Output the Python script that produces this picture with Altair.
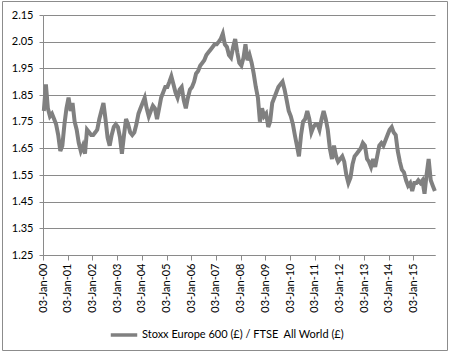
import altair as alt
import pandas as pd

# Monthly readings of the ratio (one list per year)
y2000 = [1.79, 1.89, 1.80, 1.77, 1.78, 1.76, 1.74, 1.70, 1.64, 1.66, 1.74, 1.80]
y2001 = [1.84, 1.79, 1.82, 1.75, 1.72, 1.67, 1.64, 1.66, 1.63, 1.72, 1.71, 1.70]
y2002 = [1.70, 1.71, 1.72, 1.76, 1.79, 1.82, 1.76, 1.69, 1.66, 1.70, 1.73, 1.74]
y2003 = [1.73, 1.69, 1.63, 1.70, 1.76, 1.74, 1.71, 1.70, 1.71, 1.74, 1.78, 1.80]
y2004 = [1.82, 1.84, 1.80, 1.77, 1.79, 1.81, 1.80, 1.76, 1.80, 1.84, 1.86, 1.88]
y2005 = [1.88, 1.90, 1.92, 1.89, 1.86, 1.84, 1.87, 1.88, 1.83, 1.80, 1.84, 1.87]
y2006 = [1.88, 1.90, 1.93, 1.94, 1.96, 1.97, 1.98, 2.00, 2.01, 2.02, 2.03, 2.04]
y2007 = [2.04, 2.05, 2.06, 2.08, 2.04, 2.03, 2.00, 1.99, 2.03, 2.06, 2.01, 1.97]
y2008 = [1.96, 1.99, 2.04, 1.98, 2.00, 1.97, 1.93, 1.88, 1.84, 1.75, 1.80, 1.77]
y2009 = [1.78, 1.73, 1.75, 1.82, 1.84, 1.86, 1.88, 1.89, 1.90, 1.87, 1.83, 1.79]
y2010 = [1.77, 1.74, 1.70, 1.66, 1.62, 1.70, 1.75, 1.76, 1.79, 1.76, 1.71, 1.73]
y2011 = [1.74, 1.74, 1.72, 1.76, 1.79, 1.76, 1.72, 1.65, 1.61, 1.66, 1.62, 1.60]
y2012 = [1.61, 1.62, 1.60, 1.55, 1.52, 1.54, 1.59, 1.62, 1.63, 1.64, 1.65, 1.67]
y2013 = [1.66, 1.61, 1.60, 1.58, 1.61, 1.58, 1.62, 1.66, 1.67, 1.66, 1.68, 1.70]
y2014 = [1.72, 1.73, 1.71, 1.70, 1.64, 1.60, 1.57, 1.56, 1.53, 1.51, 1.52, 1.49]
y2015 = [1.52, 1.52, 1.53, 1.52, 1.53, 1.48, 1.55, 1.61, 1.53, 1.51, 1.49]

years = [y2000, y2001, y2002, y2003, y2004, y2005, y2006, y2007,
         y2008, y2009, y2010, y2011, y2012, y2013, y2014, y2015]
y_ticks = [1.25, 1.35, 1.45, 1.55, 1.65, 1.75, 1.85, 1.95, 2.05, 2.15]
tick_years = list(range(2000, 2016))
series_name = "Stoxx Europe 600 (£) / FTSE\u00a0 All World (£)"

values = [v for yr in years for v in yr]
dates = [pd.Timestamp(2000 + i, m + 1, 15) for i, yr in enumerate(years) for m in range(len(yr))]
df = pd.DataFrame({"date": dates, "ratio": values, "series": series_name})

FONT = "Lato"
GRID = "#8a8a8a"

line = alt.Chart(df).mark_line(strokeWidth=4, strokeJoin="miter").encode(
    x=alt.X(
        "date:T",
        scale=alt.Scale(domain=[alt.DateTime(year=2000, month=1, date=3),
                                alt.DateTime(year=2015, month=11, date=17)]),
        axis=alt.Axis(
            values=[alt.DateTime(year=y, month=1, date=3) for y in tick_years],
            format="%d-%b-%y", formatType="time",
            labelAngle=270, labelAlign="right", labelBaseline="middle",
            labelPadding=3, tickSize=5, tickColor=GRID, domainColor=GRID,
            grid=False, title=None, labelFont=FONT, labelFontSize=11,
            labelColor="#000000", labelOverlap=False, labelFlush=False,
        ),
    ),
    y=alt.Y(
        "ratio:Q",
        scale=alt.Scale(domain=[1.25, 2.15], nice=False, zero=False),
        axis=alt.Axis(
            values=y_ticks, format=".2f", tickSize=4, tickColor=GRID,
            domainColor=GRID, gridColor=GRID, gridWidth=1, title=None,
            labelFont=FONT, labelFontSize=11, labelColor="#000000",
            labelPadding=6,
        ),
    ),
    color=alt.Color(
        "series:N",
        scale=alt.Scale(range=["#808080"]),
        legend=alt.Legend(
            orient="none", legendX=66, legendY=305, title=None,
            symbolType="stroke", symbolSize=700, symbolStrokeWidth=3.5,
            labelFont=FONT, labelFontSize=11, labelColor="#000000",
            labelOffset=3, padding=0, labelLimit=0,
        ),
    ),
)

border = alt.Chart(pd.DataFrame({"a": [0]})).mark_rect(
    fill=None, stroke="#8c8c8c", strokeWidth=1
).encode(
    x=alt.value(-40.5), x2=alt.value(404.5), y=alt.value(-13.5), y2=alt.value(335.5)
)

chart = alt.layer(line, border).properties(
    width=392, height=240,
    padding={"left": 43, "top": 15, "right": 15, "bottom": 98},
    autosize=alt.AutoSizeParams(type="none"),
    background="white",
).configure_view(stroke=None)

chart.save("out.html", embed_options={"renderer": "svg", "actions": False})
